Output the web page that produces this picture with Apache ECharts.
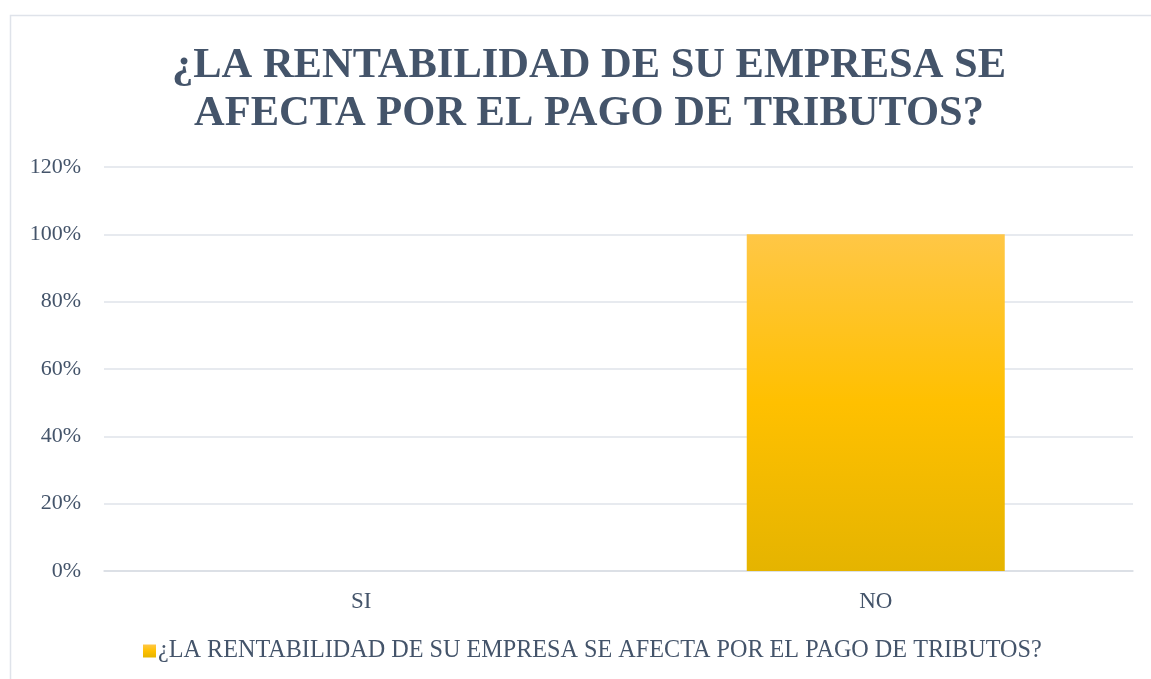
<!DOCTYPE html>
<html>
<head>
<meta charset="utf-8">
<script src="https://cdn.jsdelivr.net/npm/echarts@6/dist/echarts.min.js"></script>
<style>
  html, body { margin: 0; padding: 0; background: #fff; }
  #chart { width: 1151px; height: 679px; }
</style>
</head>
<body>
<div id="chart"></div>
<script>
// datos del gráfico
var categories = ['SI', 'NO'];
var values = [0, 1];
var seriesName = '¿LA RENTABILIDAD DE SU EMPRESA SE AFECTA POR EL PAGO DE TRIBUTOS?';
var titleText = '¿LA RENTABILIDAD DE SU EMPRESA SE\nAFECTA POR EL PAGO DE TRIBUTOS?';

var textColor = '#44546a';
var serif = '"Liberation Serif", "DejaVu Serif", serif';

var myChart = echarts.init(document.getElementById('chart'));
var barColor = new echarts.graphic.LinearGradient(0, 0, 0, 1, [
    { offset: 0, color: '#ffc746' },
    { offset: 0.5, color: '#ffc000' },
    { offset: 1, color: '#e5b400' }
]);
var option = {
    animation: false,
    // marco del gráfico
    graphic: [{
        type: 'rect',
        shape: { x: 10.5, y: 15.5, width: 1160, height: 700 },
        style: { fill: 'none', stroke: '#dfe3ea', lineWidth: 1.5 },
        silent: true
    }],
    title: {
        text: titleText,
        left: 584,
        top: 37,
        textAlign: 'center',
        textStyle: {
            fontFamily: serif,
            fontWeight: 'bold',
            fontSize: 42.5,
            lineHeight: 48,
            color: textColor
        }
    },
    legend: {
        bottom: 11,
        left: 138,
        itemWidth: 13,
        itemHeight: 13,
        itemGap: 4,
        icon: 'rect',
        data: [seriesName],
        textStyle: { fontFamily: serif, fontSize: 24.2, color: textColor, padding: [0, 0, 0, -3] }
    },
    grid: {
        left: 104,
        right: 18,
        top: 167,
        bottom: 108
    },
    xAxis: {
        type: 'category',
        data: categories,
        axisTick: { show: false },
        axisLine: { lineStyle: { color: '#d9dde4', width: 1.5 } },
        axisLabel: { fontFamily: serif, fontSize: 23, color: textColor, margin: 19 }
    },
    yAxis: {
        type: 'value',
        min: 0,
        max: 1.2,
        interval: 0.2,
        axisLine: { show: false },
        axisTick: { show: false },
        splitLine: { lineStyle: { color: '#dfe3ea', width: 1.5 } },
        axisLabel: {
            fontFamily: serif, fontSize: 22, color: textColor, margin: 23,
            formatter: function (v) { return Math.round(v * 100) + '%'; }
        }
    },
    series: [{
        name: seriesName,
        type: 'bar',
        barWidth: 258,
        itemStyle: { color: barColor },
        data: values
    }]
};
option && myChart.setOption(option);
</script>
</body>
</html>
